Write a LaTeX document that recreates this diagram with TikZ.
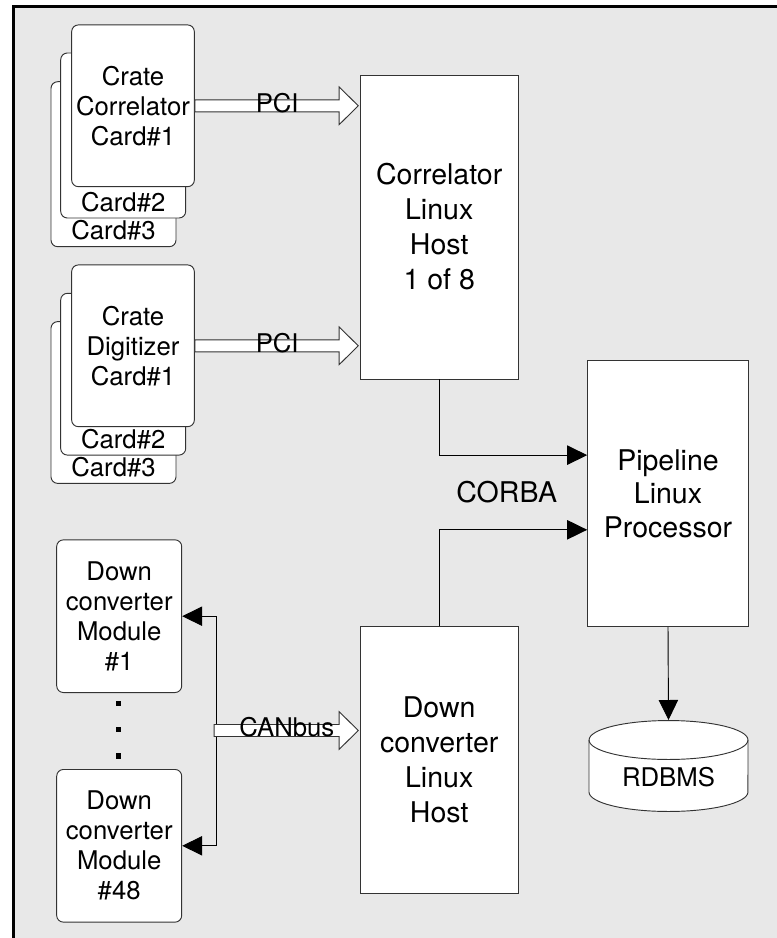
\documentclass[tikz,border=0pt]{standalone}
\usepackage{fontspec}
\setmainfont{TeX Gyre Heros}
\usetikzlibrary{arrows.meta,calc,positioning}
\definecolor{bggray}{HTML}{E8E8E8}
\colorlet{edgegray}{black!80}
\newcommand\cardfont{\fontsize{19.3pt}{22.5pt}\selectfont}
\newcommand\hostfont{\fontsize{21.4pt}{26.25pt}\selectfont}
\newcommand\pipefont{\fontsize{21.4pt}{25pt}\selectfont}
% hollow bus arrow: start point (its y is kept), end point (its x is kept), name, label
\newcommand\fatarrow[4]{%
  \draw[fat] let \p1=#1, \p2=#2 in
    (\x1,\y1+4.5pt) -- (\x2-15.3pt,\y1+4.5pt) -- (\x2-15.3pt,\y1+14.1pt) -- (\x2-1pt,\y1)
    -- (\x2-15.3pt,\y1-14.1pt) -- (\x2-15.3pt,\y1-4.5pt) -- (\x1,\y1-4.5pt) -- cycle;
  \path let \p1=#1, \p2=#2 in node[font=\cardfont] (#3) at ({(\x1+\x2)/2},\y1+2.2pt) {#4};}

\begin{document}
\begin{tikzpicture}[x=0.75pt,y=-0.75pt,>=Latex,
  card/.style={draw=edgegray,fill=white,rounded corners=5pt,line width=0.7pt,
    font=\cardfont,align=center,inner sep=0pt},
  host/.style={draw=edgegray,fill=white,line width=0.7pt,font=\hostfont,align=center,inner sep=0pt},
  conn/.style={-{Triangle[length=15pt,width=14.5pt]},line width=0.7pt},
  fat/.style={draw=edgegray,fill=white,line width=0.7pt}]
\useasboundingbox (0,0) rectangle (777,938);
\draw[line width=2.25pt,fill=bggray] (13.5,6.5) rectangle (800,960);

% correlator crate, three cards stacked
\node[card,minimum width=93.75pt,minimum height=123.75pt] (cc3) at (113.5,164.2) {};
\node[font=\cardfont] (cc3txt) at ([yshift=12.5pt]cc3.south) {Card\#3};
\node[card,minimum width=93.75pt,minimum height=123.75pt] (cc2) at (123.2,135.5) {};
\node[font=\cardfont] (cc2txt) at ([yshift=12.5pt]cc2.south) {Card\#2};
\node[card,minimum width=92pt,minimum height=121.3pt] (cc1) at (133,105.8) {Crate\\Correlator\\Card\#1};

% digitizer crate
\node[card,minimum width=93.75pt,minimum height=121.3pt] (dc3) at (113.5,402.5) {};
\node[font=\cardfont] (dc3txt) at ([yshift=12.5pt]dc3.south) {Card\#3};
\node[card,minimum width=93.75pt,minimum height=121.3pt] (dc2) at (123.2,374.2) {};
\node[font=\cardfont] (dc2txt) at ([yshift=12.5pt]dc2.south) {Card\#2};
\node[card,minimum width=92pt,minimum height=121.3pt] (dc1) at (133,345.8) {Crate\\Digitizer\\Card\#1};

% down converter modules
\node[card,minimum width=93.75pt,minimum height=114.5pt] (dcm1) at (119.2,616.2) {Down\\converter\\Module\\\#1};
\node[card,minimum width=93.75pt,minimum height=114.5pt] (dcm48) at (119.2,845.8) {Down\\converter\\Module\\\#48};
\foreach \y in {703.3,729.3,756}
  \fill (118.3,\y) +(-2.6,-2.6) rectangle +(2.6,2.6);

% hosts and processor
\node[host,minimum width=118.7pt,minimum height=228pt] (chost) at (439.2,227) {Correlator\\Linux\\Host\\1 of 8};
\node[host,minimum width=118.7pt,minimum height=200pt] (dhost) at (439.2,760) {Down\\converter\\Linux\\Host};
\node[host,font=\pipefont,minimum width=120.5pt,minimum height=199.3pt] (pipe) at (668,493.8) {Pipeline\\Linux\\Processor};

% database
\draw[fat] (589,740) -- (589,792) arc[start angle=180,end angle=360,x radius=59.6pt,y radius=14.6pt]
  -- (748,740) arc[start angle=0,end angle=180,x radius=59.6pt,y radius=14.6pt] -- cycle;
\draw[line width=0.7pt,edgegray] (589,740) arc[start angle=180,end angle=360,x radius=59.6pt,y radius=14.6pt];
\coordinate (dbtop) at (668.5,720);
\node[font=\cardfont] (db) at (668.5,776.7) {RDBMS};

% buses
\fatarrow{(cc1.east)}{(chost.west)}{pci1}{PCI}
\fatarrow{(dc1.east)}{(chost.west)}{pci2}{PCI}
\coordinate (bus) at (216.7,730.5);
\draw[conn] (bus) |- (dcm1.east);
\draw[conn] (bus) |- (dcm48.east);
\fatarrow{([xshift=-2pt]bus)}{(dhost.west)}{can}{CANbus}

% CORBA links
\draw[conn] (chost.south) |- ([yshift=29pt]pipe.west);
\draw[conn] (dhost.north) |- ([yshift=-27pt]pipe.west);
\node[font=\hostfont] (corba) at (506.7,491.7) {CORBA};
\draw[conn] (pipe.south) -- (dbtop);
\end{tikzpicture}
\end{document}
